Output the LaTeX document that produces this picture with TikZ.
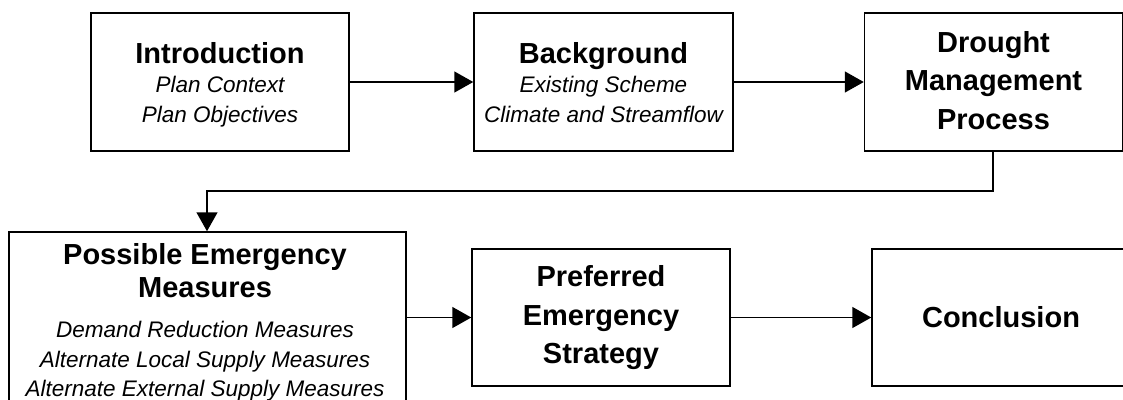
\documentclass[tikz,border=0pt]{standalone}
\usepackage{fontspec}
\setmainfont{Liberation Sans}
\usetikzlibrary{arrows.meta}

\tikzset{
  stagebox/.style={draw=black, line width=1.5pt, rectangle, inner sep=0pt, fill=white},
  headtext/.style={font=\fontsize{29}{35}\selectfont\bfseries, inner sep=0pt, anchor=base},
  subtext/.style={font=\fontsize{22.5}{27}\selectfont\itshape, inner sep=0pt, anchor=base},
  flow/.style={line width=1.5pt, -{Triangle[length=19pt, width=21pt]}},
}

\begin{document}
\begin{tikzpicture}[x=1pt, y=-1pt]
  \useasboundingbox (0,0) rectangle (1123,399);
  \clip (0,0) rectangle (1123,399);

  % first row of stages
  \node[stagebox, minimum width=258pt, minimum height=138pt] (intro) at (220,82) {};
  \node[stagebox, minimum width=259pt, minimum height=138pt] (back) at (603.5,82) {};
  \node[stagebox, minimum width=258pt, minimum height=138pt] (drought) at (993.5,82) {};

  % second row of stages
  \node[stagebox, minimum width=397pt, minimum height=190pt] (measures) at (207.5,327) {};
  \node[stagebox, minimum width=258pt, minimum height=137pt] (strategy) at (601,317.5) {};
  \node[stagebox, minimum width=258pt, minimum height=137pt] (concl) at (1001,317.5) {};

  % texts
  \node[headtext] (introH) at (220,63) {Introduction};
  \node[subtext] (introA) at (220,92) {Plan Context};
  \node[subtext] (introB) at (220,122) {Plan Objectives};

  \node[headtext] (backH) at (603.5,63) {Background};
  \node[subtext] (backA) at (603.5,92) {Existing Scheme};
  \node[subtext] (backB) at (603.5,122) {Climate and Streamflow};

  \node[headtext] (droughtA) at (993.5,52) {Drought};
  \node[headtext] (droughtB) at (993.5,90.5) {Management};
  \node[headtext] (droughtC) at (993.5,129) {Process};

  \node[headtext] (measH1) at (205,264) {Possible Emergency};
  \node[headtext] (measH2) at (205,297) {Measures};
  \node[subtext] (measA) at (205,337) {Demand Reduction Measures};
  \node[subtext] (measB) at (205,367) {Alternate Local Supply Measures};
  \node[subtext] (measC) at (205,396.5) {Alternate External Supply Measures};

  \node[headtext] (stratA) at (601,286) {Preferred};
  \node[headtext] (stratB) at (601,325) {Emergency};
  \node[headtext] (stratC) at (601,363) {Strategy};

  \node[headtext] (conclH) at (1001,327) {Conclusion};

  % connectors
  \draw[flow] (intro.east) -- (back.west);
  \draw[flow] (back.east) -- (drought.west);
  \coordinate (turnA) at (993,191);
  \coordinate (turnB) at (207,191);
  \draw[flow] (drought.south -| turnA) -- (turnA) -- (turnB) -- (turnB |- measures.north);
  \draw[flow] (measures.east |- strategy.west) -- (strategy.west);
  \draw[flow] (strategy.east) -- (concl.west);
\end{tikzpicture}
\end{document}
